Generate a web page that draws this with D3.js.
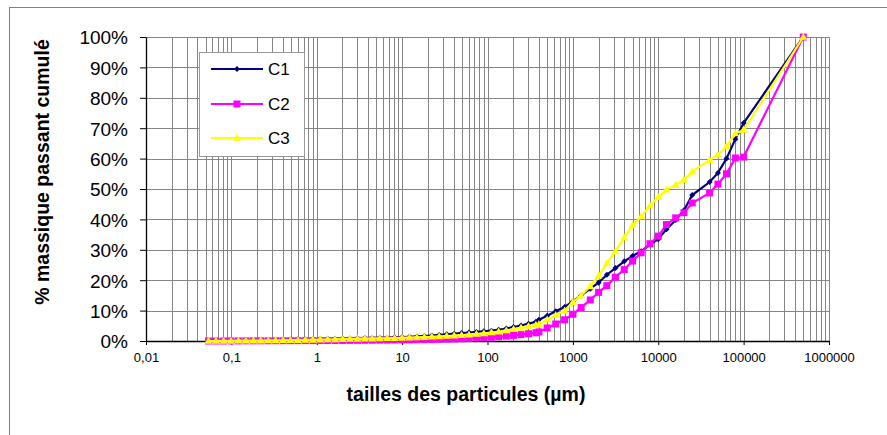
<!DOCTYPE html>
<html>
<head>
<meta charset="utf-8">
<script src="https://cdn.jsdelivr.net/npm/d3@7"></script>
<style>
    body { margin: 0; background: #fff; }
    text { font-family: Arial, "Liberation Sans", sans-serif; }
</style>
</head>
<body>
<div id="container"></div>
<script>
// data
const seriesNames = ["C1", "C2", "C3"];

// laser granulometry part (µm)
const laserSizes = [0.054, 0.066, 0.081, 0.099, 0.121, 0.148, 0.181, 0.221, 0.27, 0.33,
    0.403, 0.493, 0.602, 0.736, 0.9, 1.1, 1.34, 1.64, 2.01, 2.45,
    3, 3.66, 4.48, 5.47, 6.69, 8.17, 9.99, 12.2, 14.9, 18.2,
    22.3, 27.2, 33.3, 40.7, 49.7, 60.7, 74.2, 90.7, 111, 135,
    166, 202, 247, 302, 369];
// sieve part (µm)
const sieveSizes = [400, 500, 630, 800, 1000, 1250, 1600, 2000, 2500, 3150,
    4000, 5000, 6300, 8000, 10000, 12500, 16000, 20000, 25000, 40000,
    50000, 63000, 80000, 100000, 500000];

const c1Laser = [0.2, 0.2, 0.25, 0.3, 0.3, 0.35, 0.35, 0.4, 0.4, 0.45,
    0.5, 0.5, 0.55, 0.6, 0.6, 0.65, 0.7, 0.75, 0.8, 0.85,
    0.9, 0.95, 1.0, 1.05, 1.1, 1.2, 1.3, 1.4, 1.5, 1.65,
    1.8, 2.0, 2.2, 2.4, 2.6, 2.8, 3.0, 3.2, 3.4, 3.7,
    4.1, 4.6, 5.1, 5.7, 6.3];
const c1Sieve = [7.0, 8.3, 9.8, 11.2, 13.0, 15.0, 17.2, 19.2, 21.8, 24.0,
    26.2, 28.0, 29.5, 31.8, 33.5, 36.8, 39.8, 43.0, 48.0, 52.3,
    55.3, 60.0, 66.4, 71.7, 100];

const c2Laser = [0, 0, 0, 0.02, 0.03, 0.04, 0.05, 0.06, 0.07, 0.08,
    0.09, 0.1, 0.11, 0.12, 0.13, 0.14, 0.15, 0.16, 0.18, 0.2,
    0.22, 0.24, 0.26, 0.28, 0.3, 0.32, 0.35, 0.38, 0.41, 0.45,
    0.5, 0.55, 0.6, 0.67, 0.75, 0.85, 0.95, 1.05, 1.2, 1.4,
    1.6, 1.85, 2.1, 2.4, 2.7];
const c2Sieve = [3.0, 4.3, 5.6, 7.0, 8.8, 11.0, 13.5, 16.0, 18.2, 21.0,
    23.5, 26.3, 29.0, 32.0, 34.5, 38.3, 40.5, 42.2, 45.4, 48.7,
    51.6, 55.0, 60.2, 60.5, 100];

const c3Laser = [0, 0, 0.05, 0.05, 0.1, 0.1, 0.15, 0.15, 0.2, 0.2,
    0.25, 0.3, 0.3, 0.35, 0.4, 0.45, 0.5, 0.55, 0.6, 0.65,
    0.7, 0.75, 0.8, 0.85, 0.9, 0.95, 1.0, 1.1, 1.2, 1.3,
    1.4, 1.5, 1.65, 1.8, 1.95, 2.1, 2.3, 2.5, 2.8, 3.1,
    3.5, 3.9, 4.4, 4.9, 5.3];
const c3Sieve = [5.5, 7.0, 8.5, 10.0, 12.8, 15.0, 18.0, 21.5, 25.5, 29.5,
    34.0, 38.0, 41.0, 44.5, 47.3, 49.8, 51.3, 53.0, 55.7, 59.5,
    61.2, 64.0, 68.3, 69.4, 100];

const xTickValues = [0.01, 0.1, 1, 10, 100, 1000, 10000, 100000, 1000000];
const xTickLabels = ["0,01", "0,1", "1", "10", "100", "1000", "10000", "100000", "1000000"];
const yTickValues = [0, 10, 20, 30, 40, 50, 60, 70, 80, 90, 100];
const yTickLabels = ["0%", "10%", "20%", "30%", "40%", "50%", "60%", "70%", "80%", "90%", "100%"];

const W = 887, H = 435;
const plot = { left: 146, right: 829, top: 37, bottom: 341 };
const colors = ["#000080", "#FF00FF", "#FFFF00"];
const gridColor = "#858585";

const svg = d3.select("#container").append("svg")
    .attr("width", W)
    .attr("height", H);

// chart frame (only top and left visible in the picture)
svg.append("rect")
    .attr("x", 9.5).attr("y", 7.5)
    .attr("width", W + 10).attr("height", H + 10)
    .attr("fill", "#fff")
    .attr("stroke", "#808080");

const x = d3.scaleLog().domain([0.01, 1000000]).range([plot.left, plot.right]);
const y = d3.scaleLinear().domain([0, 100]).range([plot.bottom, plot.top]);
const px = v => Math.round(v) + 0.5;

// minor + major vertical gridlines
const xGrid = [];
for (let e = -2; e < 6; e++) {
    for (let m = 1; m < 10; m++) xGrid.push(m * Math.pow(10, e));
}
xGrid.push(1000000);

const grid = svg.append("g").attr("stroke", gridColor).attr("stroke-width", 1);
grid.selectAll("line.v")
    .data(xGrid)
    .join("line")
    .attr("class", "v")
    .attr("x1", d => px(x(d))).attr("x2", d => px(x(d)))
    .attr("y1", plot.top).attr("y2", plot.bottom);
grid.selectAll("line.h")
    .data(yTickValues)
    .join("line")
    .attr("class", "h")
    .attr("x1", plot.left).attr("x2", plot.right + 0.5)
    .attr("y1", d => px(y(d))).attr("y2", d => px(y(d)));

// axes
const xAxis = svg.append("g")
    .attr("transform", `translate(0,${px(plot.bottom) - 0.5})`)
    .call(d3.axisBottom(x)
        .tickValues(xTickValues)
        .tickFormat((d, i) => xTickLabels[i])
        .tickSize(4)
        .tickPadding(8)
        .tickSizeOuter(0));
xAxis.selectAll("text")
    .attr("font-size", "13px")
    .attr("fill", "#000");

const yAxis = svg.append("g")
    .attr("transform", `translate(${px(plot.left) - 0.5},0)`)
    .call(d3.axisLeft(y)
        .tickValues(yTickValues)
        .tickFormat((d, i) => yTickLabels[i])
        .tickSize(6)
        .tickPadding(12)
        .tickSizeOuter(0));
yAxis.selectAll("text")
    .attr("font-size", "19px")
    .attr("dy", "0.36em")
    .attr("fill", "#000");

svg.selectAll(".domain").attr("stroke", "#000").attr("stroke-width", 1.3);
svg.selectAll(".tick line").attr("stroke", "#000");

// axis titles
svg.append("text")
    .attr("transform", `translate(49,172) rotate(-90)`)
    .attr("text-anchor", "middle")
    .attr("font-size", "19.5px")
    .attr("font-weight", "bold")
    .text("% massique passant cumulé");

svg.append("text")
    .attr("x", 466)
    .attr("y", 401)
    .attr("text-anchor", "middle")
    .attr("font-size", "19.5px")
    .attr("font-weight", "bold")
    .text("tailles des particules (µm)");

// marker shapes
const markerPath = [
    r => `M0,${-r}L${r},0L0,${r}L${-r},0Z`,                  // diamond
    r => `M${-r},${-r}H${r}V${r}H${-r}Z`,                    // square
    r => `M0,${-r * 1.1}L${r * 1.05},${r * 0.75}L${-r * 1.05},${r * 0.75}Z` // triangle
];
const markerSize = [3, 3.5, 3.8];

const series = [
    { name: seriesNames[0], sizes: laserSizes.concat(sieveSizes), values: c1Laser.concat(c1Sieve) },
    { name: seriesNames[1], sizes: laserSizes.concat(sieveSizes), values: c2Laser.concat(c2Sieve) },
    { name: seriesNames[2], sizes: laserSizes.concat(sieveSizes), values: c3Laser.concat(c3Sieve) }
];

const line = d3.line()
    .x(d => x(d[0]))
    .y(d => y(d[1]));

series.forEach((s, i) => {
    const pts = s.sizes.map((v, k) => [v, s.values[k]]);
    const g = svg.append("g");
    g.append("path")
        .datum(pts)
        .attr("d", line)
        .attr("fill", "none")
        .attr("stroke", colors[i])
        .attr("stroke-width", 2.2);
    g.selectAll("path.m")
        .data(pts)
        .join("path")
        .attr("class", "m")
        .attr("transform", d => `translate(${x(d[0])},${y(d[1])})`)
        .attr("d", markerPath[i](markerSize[i]))
        .attr("fill", colors[i]);
});

// legend
const legend = svg.append("g");
legend.append("rect")
    .attr("x", 199.5).attr("y", 52.5)
    .attr("width", 105).attr("height", 104)
    .attr("fill", "#fff")
    .attr("stroke", "#999");

const legendY = [69, 104, 138];
seriesNames.forEach((name, i) => {
    const ly = legendY[i];
    legend.append("line")
        .attr("x1", 211).attr("x2", 263)
        .attr("y1", ly).attr("y2", ly)
        .attr("stroke", colors[i])
        .attr("stroke-width", 2.2);
    legend.append("path")
        .attr("transform", `translate(237,${ly})`)
        .attr("d", markerPath[i](markerSize[i]))
        .attr("fill", colors[i]);
    legend.append("text")
        .attr("x", 268)
        .attr("y", ly + 6)
        .attr("font-size", "17px")
        .text(name);
});
</script>
</body>
</html>
